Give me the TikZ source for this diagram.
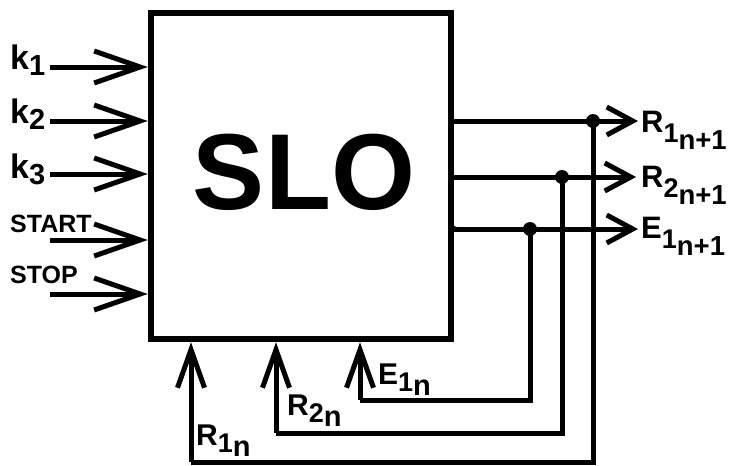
\documentclass[tikz,border=0pt]{standalone}
\usepackage{fontspec}
\setmainfont{Liberation Sans}
\usetikzlibrary{arrows.meta}
\newcommand\Lk[1]{{\fontsize{34}{34}\selectfont k}\raisebox{-6pt}{\fontsize{29}{29}\selectfont #1}}
\newcommand\Lout[2]{{\fontsize{31}{31}\selectfont #1}\raisebox{-10pt}{\fontsize{27}{27}\selectfont #2}\raisebox{-17pt}{\fontsize{27.5}{27.5}\selectfont n+1}}
\newcommand\Lin[2]{{\fontsize{30}{30}\selectfont #1}\raisebox{-7pt}{\fontsize{27}{27}\selectfont #2}\raisebox{-11pt}{\fontsize{29}{29}\selectfont n}}
\tikzset{
  lab/.style={anchor=base west, inner sep=0pt, font=\bfseries},
  inar/.style={line width=5pt, -{Straight Barb[length=46pt,width=32pt,line width=5pt]}},
  outar/.style={line width=5pt, -{Straight Barb[length=26pt,width=28pt,line width=5pt]}},
  upar/.style={line width=5pt, -{Straight Barb[length=38pt,width=27pt,line width=5pt]}},
  fb/.style={line width=5pt},
  junc/.style={circle, fill=black, inner sep=0pt, minimum size=14pt},
}
\begin{document}
\begin{tikzpicture}[x=1pt,y=-1pt]
\useasboundingbox (0,0) rectangle (732,466);
\node[draw, line width=6.5pt, minimum width=300pt, minimum height=326pt, inner sep=0pt] (slo) at (301,176) {};
\node[inner sep=0pt, font=\bfseries\fontsize{108}{108}\selectfont] (t) at (304,172) {SLO};
% inputs
\coordinate (i1) at (50,67);
\coordinate (i2) at (50,121);
\coordinate (i3) at (50,174);
\coordinate (i4) at (50,240);
\coordinate (i5) at (50,294);
\foreach \i in {1,...,5} {\draw[inar] (i\i) -- (i\i -| slo.west);}
\node[lab] (lk1) at (10,69) {\Lk{1}};
\node[lab] (lk2) at (10,123) {\Lk{2}};
\node[lab] (lk3) at (10,178) {\Lk{3}};
\node[lab, font=\bfseries\fontsize{25}{25}\selectfont] (lstart) at (10,232) {START};
\node[lab, font=\bfseries\fontsize{25}{25}\selectfont] (lstop) at (10,283) {STOP};
% outputs
\node[junc] (j1) at (593,121) {};
\node[junc] (j2) at (562,177) {};
\node[junc] (j3) at (530,229) {};
\coordinate (o1) at (638,121);
\coordinate (o2) at (636,177);
\coordinate (o3) at (638,229);
\draw[outar] (slo.east |- j1) -- (o1);
\draw[outar] (slo.east |- j2) -- (o2);
\draw[outar] (slo.east |- j3) -- (o3);
\fill (slo.east |- j3) circle (3pt);
\node[lab] (lr1) at (641,132) {\Lout{R}{1}};
\node[lab] (lr2) at (641,187) {\Lout{R}{2}};
\node[lab] (le1) at (641,238) {\Lout{E}{1}};
% feedback
\coordinate (u1) at (191,462);
\coordinate (u2) at (276,433);
\coordinate (u3) at (360,400);
\draw[fb] (j1.center) |- (u1);
\draw[fb] (j2.center) |- (u2);
\draw[fb] (j3.center) |- (u3);
\draw[upar] (u1) -- (u1 |- slo.south);
\draw[upar] (u2) -- (u2 |- slo.south);
\draw[upar] (u3) -- (u3 |- slo.south);
\node[lab] (lb3) at (378,384) {\Lin{E}{1}};
\node[lab] (lb2) at (287,415) {\Lin{R}{2}};
\node[lab] (lb1) at (196,445) {\Lin{R}{1}};
\end{tikzpicture}
\end{document}
